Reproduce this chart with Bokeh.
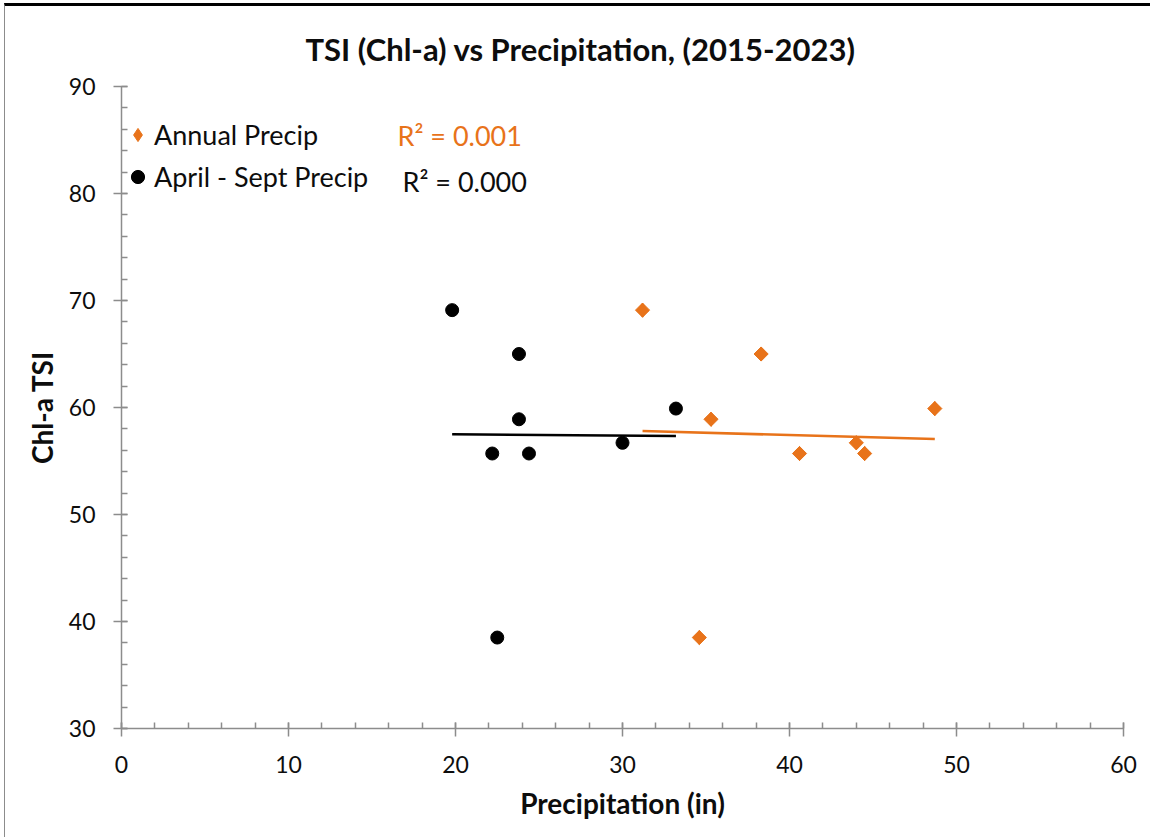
from bokeh.plotting import figure
from bokeh.models import (Range1d, FixedTicker, Label, Legend, LegendItem,
                          ColumnDataSource)
from bokeh.embed import file_html
from bokeh.resources import INLINE
import numpy as np

# Trophic state index (chlorophyll-a) per year and the matching rainfall totals
tsi_chla = [69.1, 65.0, 58.9, 59.9, 56.7, 55.7, 55.7, 38.5]
annual_precip = [31.2, 38.3, 35.3, 48.7, 44.0, 40.6, 44.5, 34.6]
apr_sep_precip = [19.8, 23.8, 23.8, 33.2, 30.0, 22.2, 24.4, 22.5]

series_names = ["Annual Precip", "April - Sept Precip"]
r2_labels = ["R\u00b2 = 0.001", "R\u00b2 = 0.000"]

x_major = [0, 10, 20, 30, 40, 50, 60]
x_minor = list(range(0, 61, 2))
y_major = [30, 40, 50, 60, 70, 80, 90]
y_minor = list(range(30, 91, 2))

ORANGE = "#E8731A"
AXIS = "#8C8C8C"
TXT = "#0D0D0D"
FONT = "Lato"

p = figure(width=1146, height=834, output_backend="svg", toolbar_location=None,
           x_range=Range1d(0, 60), y_range=Range1d(30, 90),
           min_border_left=116, min_border_right=28,
           min_border_top=80, min_border_bottom=112)
# page frame: heavy rule across the top, thin grey rule down the left
p.styles = {"border-top": "3px solid #000000", "border-left": "1px solid #8C8C8C",
            "margin-top": "3px", "margin-left": "4px"}
p.grid.visible = False
p.outline_line_color = None
p.background_fill_color = "white"
p.border_fill_color = "white"

p.title.text = "TSI (Chl-a) vs Precipitation, (2015-2023)"
p.title.align = "left"
p.title.offset = 184
p.title.standoff = 37
p.title.text_font = FONT
p.title.text_font_style = "bold"
p.title.text_font_size = "31px"
p.title.text_color = TXT

for ax, major, minor in ((p.xaxis[0], x_major, x_minor), (p.yaxis[0], y_major, y_minor)):
    ax.ticker = FixedTicker(ticks=major, minor_ticks=minor)
    ax.axis_line_color = AXIS
    ax.axis_line_width = 1.5
    ax.major_tick_line_color = AXIS
    ax.major_tick_line_width = 1.5
    ax.minor_tick_line_color = AXIS
    ax.minor_tick_line_width = 1.5
    ax.major_tick_out = 8
    ax.major_tick_in = 6
    ax.minor_tick_out = 0
    ax.minor_tick_in = 6
    ax.major_label_text_font = FONT
    ax.major_label_text_font_size = "23px"
    ax.major_label_text_color = TXT
    ax.axis_label_text_font = FONT
    ax.axis_label_text_font_style = "bold"
    ax.axis_label_text_font_size = "28px"
    ax.axis_label_text_color = TXT
p.xaxis[0].major_label_standoff = 19
p.yaxis[0].major_label_standoff = 18
p.xaxis[0].axis_label = "Precipitation (in)"
p.xaxis[0].axis_label_standoff = 10
p.yaxis[0].axis_label = "Chl-a TSI"
p.yaxis[0].axis_label_standoff = 7

annual_src = ColumnDataSource(dict(x=annual_precip, y=tsi_chla))
aprsep_src = ColumnDataSource(dict(x=apr_sep_precip, y=tsi_chla))

# Annual series: a narrow diamond (used for the legend key) sits inside the
# square-diamond marker drawn on top of it
r_annual_key = p.scatter("x", "y", source=annual_src, marker="diamond", size=14,
                         fill_color=ORANGE, line_color=ORANGE)
r_annual = p.scatter("x", "y", source=annual_src, marker="square", size=10,
                     angle=np.pi / 4, fill_color=ORANGE, line_color=ORANGE)
r_aprsep = p.scatter("x", "y", source=aprsep_src, marker="circle", size=13,
                     fill_color="black", line_color="black")

# Least-squares trend lines over each series' x extent
def trend(xs, ys):
    xs = np.asarray(xs, float)
    ys = np.asarray(ys, float)
    m, b = np.polyfit(xs, ys, 1)
    x_ends = np.array([xs.min(), xs.max()])
    return x_ends, m * x_ends + b

tx, ty = trend(annual_precip, tsi_chla)
p.line(tx, ty, line_color=ORANGE, line_width=2.5)
tx, ty = trend(apr_sep_precip, tsi_chla)
p.line(tx, ty, line_color="black", line_width=2.5)

legend = Legend(items=[LegendItem(label=series_names[0], renderers=[r_annual_key]),
                       LegendItem(label=series_names[1], renderers=[r_aprsep])],
                location=(0, 535), glyph_width=33, glyph_height=33,
                label_standoff=0, spacing=9, padding=0, margin=0,
                border_line_color=None, background_fill_alpha=0,
                label_text_font=FONT, label_text_font_size="27px",
                label_text_color=TXT)
p.add_layout(legend, "center")

# Screen offsets measured from the plot area's left and bottom edges
FL, FB = 121, 728

p.add_layout(Label(x=397 - FL, y=FB - 135, x_units="screen", y_units="screen",
                   text=r2_labels[0], text_font=FONT, text_font_size="27px",
                   text_align="left", text_baseline="alphabetic", text_color=ORANGE))
p.add_layout(Label(x=402 - FL, y=FB - 181, x_units="screen", y_units="screen",
                   text=r2_labels[1], text_font=FONT, text_font_size="27px",
                   text_align="left", text_baseline="alphabetic", text_color=TXT))

open("out.html", "w").write(file_html(p, INLINE))
